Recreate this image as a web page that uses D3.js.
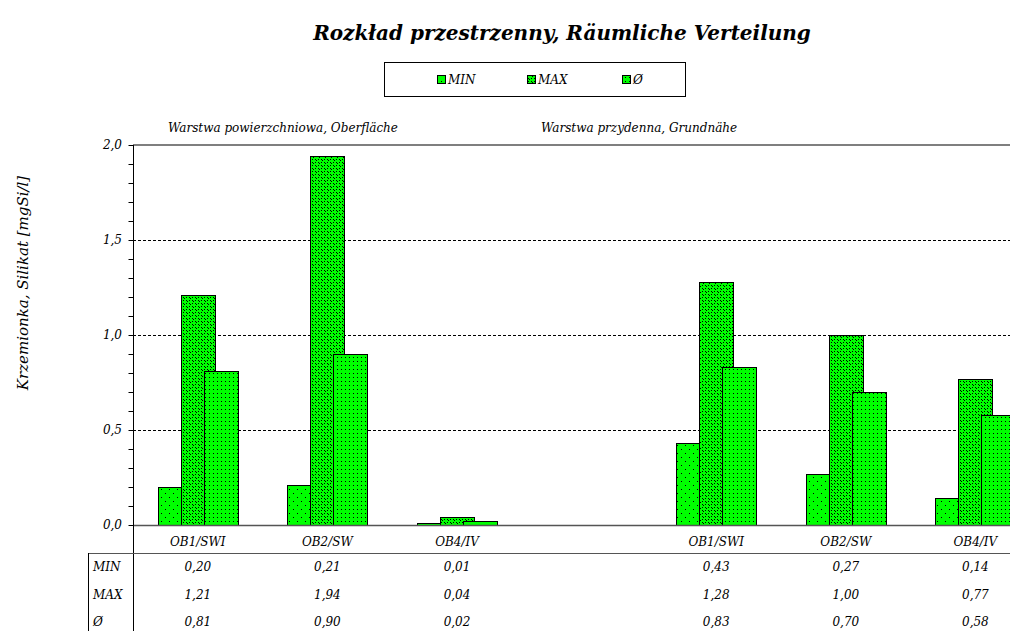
<!DOCTYPE html>
<html>
<head>
<meta charset="utf-8">
<script src="https://cdn.jsdelivr.net/npm/d3@7"></script>
<style>
  body { margin: 0; background: #fff; }
  svg { display: block; }
  text { font-family: "DejaVu Serif", "Liberation Serif", serif; font-style: italic; fill: #000; }
</style>
</head>
<body>
<div id="chart"></div>
<script>
const categories = ["OB1/SWI", "OB2/SW", "OB4/IV", "", "OB1/SWI", "OB2/SW", "OB4/IV"];
const minVals = [0.20, 0.21, 0.01, null, 0.43, 0.27, 0.14];
const maxVals = [1.21, 1.94, 0.04, null, 1.28, 1.00, 0.77];
const avgVals = [0.81, 0.90, 0.02, null, 0.83, 0.70, 0.58];
const seriesNames = ["MIN", "MAX", "Ø"];
const yTicks = [0, 0.5, 1.0, 1.5, 2.0];

const width = 1010, height = 631;
const plotLeft = 133, plotTop = 145, plotBottom = 525;
const slotW = 129.6;

const svg = d3.select("#chart").append("svg").attr("width", width).attr("height", height);

// fill patterns (dotted greens)
const defs = svg.append("defs");
function makePattern(id, size, dots) {
    const p = defs.append("pattern").attr("id", id)
        .attr("patternUnits", "userSpaceOnUse")
        .attr("width", size).attr("height", size);
    p.append("rect").attr("width", size).attr("height", size).attr("fill", "#00ff00");
    dots.forEach(d => {
        p.append("rect").attr("x", d[0]).attr("y", d[1]).attr("width", 1).attr("height", 1)
            .attr("fill", "#000").attr("shape-rendering", "crispEdges");
    });
}
makePattern("pMin", 8, [[1, 1], [5, 5]]);
makePattern("pMax", 6, [[0, 0], [3, 0], [0, 3], [3, 3], [1, 1], [4, 4]]);
makePattern("pAvg", 4, [[1, 1]]);
const fills = ["url(#pMin)", "url(#pMax)", "url(#pAvg)"];

const x = d3.scaleBand().domain(d3.range(categories.length)).range([plotLeft, plotLeft + slotW * categories.length]);
const y = d3.scaleLinear().domain([0, 2]).range([plotBottom, plotTop]);

// title
svg.append("text").attr("x", 562).attr("y", 40).attr("text-anchor", "middle")
    .style("font-size", "20px").style("font-weight", "bold")
    .text("Rozkład przestrzenny, Räumliche Verteilung");

// legend
svg.append("rect").attr("x", 384.5).attr("y", 62.5).attr("width", 301).attr("height", 34)
    .attr("fill", "#fff").attr("stroke", "#000");
const legX = [437, 527, 622];
seriesNames.forEach((n, i) => {
    svg.append("rect").attr("x", legX[i] + 0.5).attr("y", 75.5).attr("width", 8).attr("height", 8)
        .attr("fill", fills[i]).attr("stroke", "#000");
    svg.append("text").attr("x", legX[i] + 11).attr("y", 84).style("font-size", "12px").text(n);
});

// section labels
svg.append("text").attr("x", 168).attr("y", 132).style("font-size", "12px").text("Warstwa powierzchniowa, Oberfläche");
svg.append("text").attr("x", 541).attr("y", 132).style("font-size", "12px").text("Warstwa przydenna, Grundnähe");

// gridlines
svg.append("g").selectAll("line").data(yTicks.filter(t => t > 0 && t < 2)).join("line")
    .attr("x1", plotLeft).attr("x2", width)
    .attr("y1", d => Math.round(y(d)) + 0.5).attr("y2", d => Math.round(y(d)) + 0.5)
    .attr("stroke", "#000").attr("stroke-dasharray", "3,2");
svg.append("line").attr("x1", plotLeft).attr("x2", width).attr("y1", y(2)).attr("y2", y(2))
    .attr("stroke", "#7f7f7f").attr("stroke-width", 2);

// bars
const series = [minVals, maxVals, avgVals];
const barW = 34, barOff = [-40, -17, 6];
series.forEach((vals, si) => {
    svg.append("g").selectAll("rect")
        .data(vals.map((v, i) => [i, v]).filter(d => d[1] !== null))
        .join("rect")
        .attr("x", d => Math.round(x(d[0]) + x.bandwidth() / 2 + barOff[si]) + 0.5)
        .attr("y", d => Math.round(y(d[1])) + 0.5)
        .attr("width", barW)
        .attr("height", d => Math.max(0, Math.round(y(0)) - Math.round(y(d[1]))))
        .attr("fill", fills[si]).attr("stroke", "#000");
});

// baseline
svg.append("line").attr("x1", plotLeft).attr("x2", width).attr("y1", y(0) + 0.5).attr("y2", y(0) + 0.5)
    .attr("stroke", "#555").attr("stroke-width", 1.5);

// y axis with minor ticks
const yAxis = d3.axisLeft(y).tickValues(d3.range(0, 2.001, 0.1)).tickSize(5).tickFormat("");
const gy = svg.append("g").attr("transform", `translate(${plotLeft + 0.5},0)`).call(yAxis);
gy.select(".domain").remove();
gy.selectAll(".tick line").attr("stroke", "#000");
svg.append("line").attr("x1", plotLeft + 0.5).attr("x2", plotLeft + 0.5).attr("y1", plotTop).attr("y2", height)
    .attr("stroke", "#000");
svg.append("g").selectAll("text").data(yTicks).join("text")
    .attr("x", 122).attr("y", d => y(d) + 4).attr("text-anchor", "end")
    .style("font-size", "12px").text(d => d3.format(".1f")(d).replace(".", ","));

// y axis title
svg.append("text").attr("transform", `translate(28,${(plotTop + plotBottom) / 2 - 52}) rotate(-90)`)
    .attr("text-anchor", "middle").style("font-size", "15px")
    .text("Krzemionka, Silikat [mgSi/l]");

// category labels
svg.append("g").selectAll("text").data(categories).join("text")
    .attr("x", (d, i) => x(i) + x.bandwidth() / 2).attr("y", 546)
    .attr("text-anchor", "middle").style("font-size", "12px").text(d => d);

// data table
svg.append("line").attr("x1", 88).attr("x2", width).attr("y1", 553.5).attr("y2", 553.5).attr("stroke", "#555");
svg.append("line").attr("x1", 88.5).attr("x2", 88.5).attr("y1", 553).attr("y2", height).attr("stroke", "#000");
const rowY = [571, 599, 626];
const fmt = v => v === null ? "" : d3.format(".2f")(v).replace(".", ",");
seriesNames.forEach((n, ri) => {
    svg.append("text").attr("x", 93).attr("y", rowY[ri]).style("font-size", "12px").text(n);
    svg.append("g").selectAll("text").data(series[ri]).join("text")
        .attr("x", (d, i) => x(i) + x.bandwidth() / 2).attr("y", rowY[ri])
        .attr("text-anchor", "middle").style("font-size", "12px").text(fmt);
});
</script>
</body>
</html>
